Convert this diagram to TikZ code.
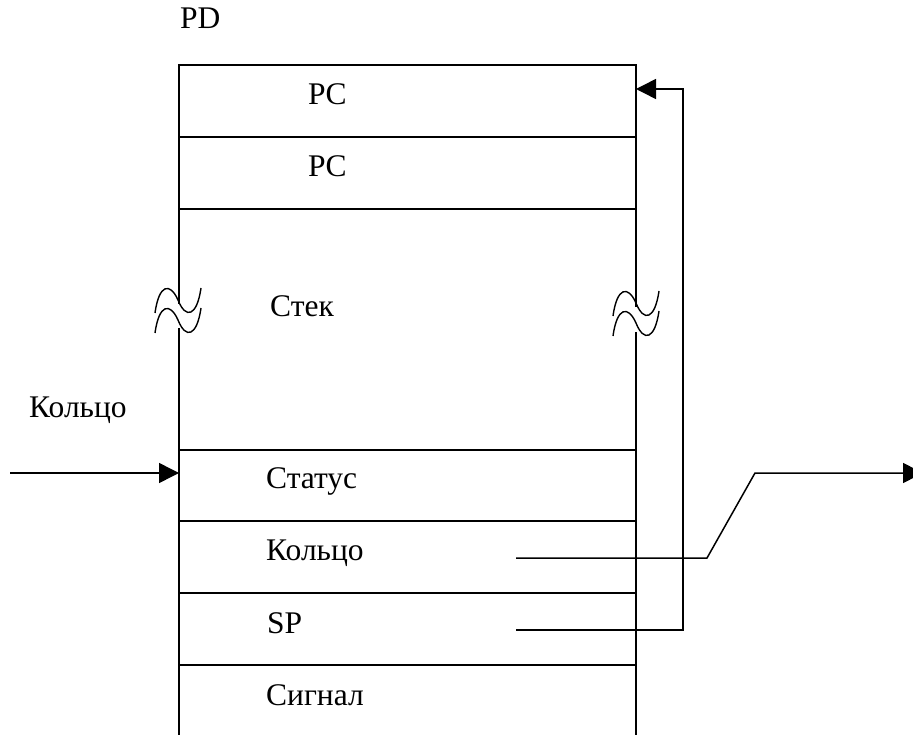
\documentclass[tikz,border=0pt]{standalone}
\usepackage{fontspec}
\setmainfont{Liberation Serif}
\usetikzlibrary{arrows.meta}
\begin{document}
\begin{tikzpicture}[x=1pt,y=-1pt,
  frame/.style={line width=1.6pt},
  conn/.style={line width=1.5pt},
  tip/.style={-{Triangle[length=20pt,width=20pt]}},
  lbl/.style={anchor=base west,inner sep=0pt,font=\fontsize{31.5}{38}\selectfont},
  wave/.style={line width=1.4pt}]
\clip (0,0) rectangle (913,735);
\useasboundingbox (0,0) rectangle (913,735);
% frame
\draw[frame] (179,304) -- (179,65) -- (636,65) -- (636,307);
\draw[frame] (179,328) -- (179,735);
\draw[frame] (636,332) -- (636,735);
\foreach \y in {137,209,450,521,593,665} \draw[frame] (179,\y) -- (636,\y);
% break marks
\foreach \dx/\dy in {0/0,0/20,458/3,458/23}{
  \draw[wave,shift={(\dx,\dy)}] (155,313) .. controls (159,284) and (170,282) .. (178,300)
    .. controls (186,320) and (197,316) .. (201,288);
}
% labels
\node[lbl] (pd) at (180,29) {PD};
\node[lbl] (pc1) at (308,105) {PC};
\node[lbl] (pc2) at (308,177) {PC};
\node[lbl] (stek) at (270,317) {Стек};
\node[lbl] (ringL) at (29,417) {Кольцо};
\node[lbl] (status) at (266,488) {Статус};
\node[lbl] (ring) at (266,560) {Кольцо};
\node[lbl] (sp) at (267,633) {SP};
\node[lbl] (sig) at (266,705) {Сигнал};
% connector points
\coordinate (inS) at (10,473);
\coordinate (inE) at (179,473);
\coordinate (spA) at (516,630);
\coordinate (spB) at (683,630);
\coordinate (pcIn) at (636,89);
\coordinate (rA) at (516,558);
\coordinate (rB) at (707,558);
\coordinate (rC) at (755,473);
\coordinate (rD) at (923,473);
% connectors
\draw[conn,tip] (inS) -- (inE);
\draw[conn,tip] (spA) -- (spB) |- (pcIn);
\draw[conn,tip] (rA) -- (rB) -- (rC) -- (rD);
\end{tikzpicture}
\end{document}
